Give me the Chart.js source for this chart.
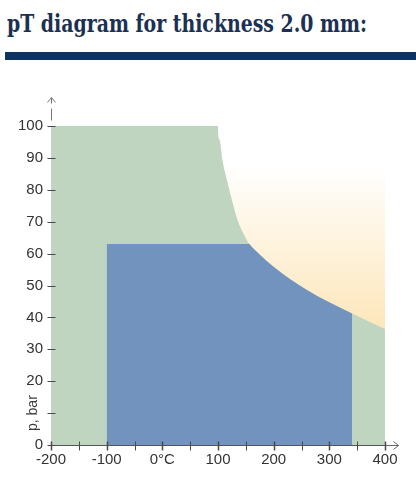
<!DOCTYPE html>
<html><head><meta charset="utf-8">
<script src="https://cdn.jsdelivr.net/npm/chart.js@4"></script>
<style>
html,body{margin:0;padding:0;background:#fff;width:416px;height:490px;overflow:hidden}
#title{position:absolute;left:7px;top:9px;font-family:"DejaVu Serif",serif;font-stretch:condensed;font-weight:bold;font-size:24px;line-height:30px;color:#1b3052;white-space:nowrap;transform-origin:0 0}
#bar{position:absolute;left:5px;top:52px;width:411px;height:8px;background:#0d3461}
#wrap{position:absolute;left:0;top:70px;width:416px;height:420px}
</style></head><body>
<div id="title">pT diagram for thickness 2.0 mm:</div>
<div id="bar"></div>
<div id="wrap"><canvas id="c"></canvas></div>
<script>
// Outer (green) operating area
const greenT = [-200, 400];
const greenP = [100, 100];
// Inner (blue) operating area
const blueT = [-100, 341, 341];
const blueP = [63, 63, 0];
// Limit curve (upper boundary)
const limitT = [100, 100.5, 103, 108, 116, 125, 135, 151, 155, 176, 200, 260, 340, 400];
const limitP = [100, 97, 95.6, 89.3, 83.1, 76.8, 70.5, 64.5, 63.3, 59.6, 55.9, 48.6, 41.3, 36.4];
// Axis ticks
const xMin = -200, xMax = 400, xStep = 50;
const yMin = 0, yMax = 100, yStep = 10;
const yTitle = 'p, bar';

const t = document.getElementById('title');
t.style.transform = 'scaleX(' + (360 / t.getBoundingClientRect().width) + ')';

const pts = (xs, ys) => xs.map((x, i) => ({x, y: ys[i]}));

const decor = {
  id: 'decor',
  afterDraw(chart) {
    const {ctx, scales: {x, y}} = chart;
    const x0 = Math.round(x.getPixelForValue(xMin)) + 0.5;
    const x1 = Math.round(x.getPixelForValue(xMax)) + 0.5;
    const y0 = Math.round(y.getPixelForValue(yMin)) + 0.5;
    const y1 = Math.round(y.getPixelForValue(yMax)) + 0.5;
    ctx.save();
    ctx.strokeStyle = '#4a4a4a';
    ctx.lineWidth = 1;
    x.ticks.forEach(tk => {
      const px = Math.round(x.getPixelForValue(tk.value)) + 0.5;
      ctx.lineWidth = tk.value % 100 === 0 ? 1.5 : 1;
      ctx.beginPath(); ctx.moveTo(px, y0 - 4); ctx.lineTo(px, y0 + 5); ctx.stroke();
    });
    ctx.lineWidth = 1;
    y.ticks.forEach(tk => {
      const py = Math.round(y.getPixelForValue(tk.value)) + 0.5;
      ctx.beginPath(); ctx.moveTo(x0 - 4, py); ctx.lineTo(x0 + 4, py); ctx.stroke();
    });
    // y arrow
    ctx.strokeStyle = '#777';
    ctx.beginPath(); ctx.moveTo(x0, y1 - 6); ctx.lineTo(x0, y1 - 18); ctx.stroke();
    ctx.beginPath(); ctx.moveTo(x0, y1 - 23); ctx.lineTo(x0, y1 - 29); ctx.stroke();
    ctx.beginPath(); ctx.moveTo(x0 - 4, y1 - 24); ctx.lineTo(x0, y1 - 29); ctx.lineTo(x0 + 4, y1 - 24); ctx.stroke();
    // x arrow
    ctx.strokeStyle = '#666';
    ctx.beginPath(); ctx.moveTo(x1, y0); ctx.lineTo(x1 + 13, y0); ctx.stroke();
    ctx.beginPath(); ctx.moveTo(x1 + 8, y0 - 4); ctx.lineTo(x1 + 13, y0); ctx.lineTo(x1 + 8, y0 + 4); ctx.stroke();
    // y title
    ctx.translate(33, y.getPixelForValue(10));
    ctx.rotate(-Math.PI / 2);
    ctx.fillStyle = '#3c3c3c';
    ctx.font = '14px "Liberation Sans", sans-serif';
    ctx.textAlign = 'center';
    ctx.textBaseline = 'middle';
    ctx.fillText(yTitle, 0, 0);
    ctx.restore();
  }
};

new Chart(document.getElementById('c'), {
  type: 'line',
  data: {
    datasets: [
      {
        label: 'limit',
        data: pts(limitT, limitP),
        order: 0,
        borderWidth: 0,
        pointRadius: 0,
        cubicInterpolationMode: 'monotone',
        fill: {value: 100},
        backgroundColor: (c) => {
          const ch = c.chart;
          if (!ch.chartArea) return '#fff';
          const ys = ch.scales.y;
          const top = ys.getPixelForValue(100), bot = ys.getPixelForValue(36);
          const g = ch.ctx.createLinearGradient(0, top, 0, bot);
          g.addColorStop(0, '#ffffff');
          g.addColorStop(0.19, '#ffffff');
          g.addColorStop(1, '#fde6b9');
          return g;
        }
      },
      {
        label: 'blue',
        data: pts(blueT, blueP),
        order: 1,
        borderWidth: 0,
        pointRadius: 0,
        tension: 0,
        fill: 'origin',
        backgroundColor: '#7193bd'
      },
      {
        label: 'green',
        data: pts(greenT, greenP),
        order: 2,
        borderWidth: 0,
        pointRadius: 0,
        tension: 0,
        fill: 'origin',
        backgroundColor: '#bfd5bf'
      }
    ]
  },
  options: {
    responsive: true,
    maintainAspectRatio: false,
    animation: false,
    layout: {padding: {top: 56, right: 31, left: 0, bottom: 0}},
    plugins: {legend: {display: false}, tooltip: {enabled: false}},
    scales: {
      x: {
        type: 'linear', min: xMin, max: xMax,
        afterFit: s => { s.height = 45; },
        grid: {display: false, drawTicks: false},
        border: {display: true, color: '#555', width: 1},
        ticks: {
          stepSize: xStep, autoSkip: false, maxRotation: 0, padding: 6,
          color: '#333', font: {family: '"Liberation Sans", sans-serif', size: 15},
          callback: v => v % 100 === 0 ? (v === 0 ? '0°C' : String(v)) : ''
        }
      },
      y: {
        type: 'linear', min: yMin, max: yMax,
        afterFit: s => { s.width = 51; },
        grid: {display: false, drawTicks: false},
        border: {display: true, color: '#555', width: 1},
        ticks: {
          stepSize: yStep, padding: 8,
          color: '#333', font: {family: '"Liberation Sans", sans-serif', size: 15},
          callback: v => v === 10 ? '' : String(v)
        }
      }
    }
  },
  plugins: [decor]
});
</script>
</body></html>
